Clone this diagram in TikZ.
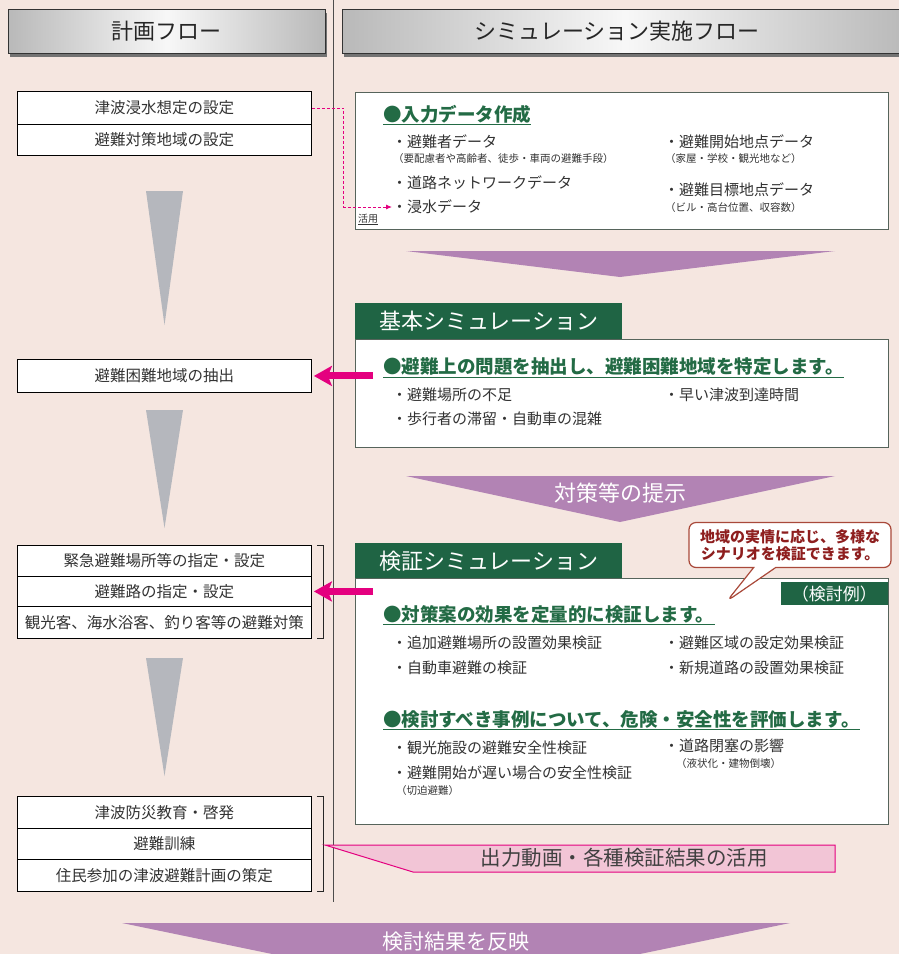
\documentclass[tikz,border=0pt]{standalone}
\usepackage{fontspec}
\setmainfont{Noto Sans CJK JP}
\usetikzlibrary{arrows.meta,calc,shapes.callouts}
\definecolor{bg}{HTML}{F5E6E0}
\definecolor{grn}{HTML}{1F6444}
\definecolor{grntxt}{HTML}{236B45}
\definecolor{mag}{HTML}{E4007F}
\definecolor{purp}{HTML}{B283B4}
\definecolor{tri}{HTML}{B5B7BD}
\definecolor{boxln}{HTML}{56645B}
\definecolor{calln}{HTML}{A9493A}
\definecolor{caltx}{HTML}{8E1E1E}
\definecolor{pinkfill}{HTML}{F2C5D6}
\definecolor{itx}{HTML}{333333}
\newcommand{\fs}[1]{\fontsize{#1}{#1}\selectfont}
\begin{document}
\begin{tikzpicture}[x=1pt,y=-1pt,
  hdr/.style={draw=gray!40!black, line width=0.8pt, left color=gray!55, right color=gray!55, middle color=gray!6,
     anchor=north west, minimum height=44pt, inner sep=0, font=\fs{22}, text=black!85},
  lbox/.style={draw=black, line width=0.9pt, fill=white, anchor=north west, minimum width=294pt, inner sep=0, font=\fs{15.5}, text=itx},
  simbox/.style={draw=boxln, line width=0.9pt, fill=white, anchor=north west, minimum width=533pt, inner sep=0},
  tabbox/.style={fill=grn, anchor=north west, minimum width=267pt, minimum height=36pt, inner sep=0, text=white, font=\fs{22}},
  ttl/.style={anchor=west, inner sep=0, text=grntxt, font=\fs{18.5}\bfseries},
  itm/.style={anchor=west, inner sep=0, text=itx, font=\fs{15}},
  sml/.style={anchor=west, inner sep=0, text=itx, font=\fs{10.5}},
  uline/.style={grntxt, line width=0.9pt},
  magarrow/.style={mag, line width=7pt, -{Stealth[length=18pt,width=20pt,inset=4pt]}},
  tritri/.style={fill=tri},
  purparrow/.style={fill=purp}
]
\useasboundingbox (0,0) rectangle (899,954);
\clip (0,0) rectangle (899,954);
\fill[bg] (0,0) rectangle (899,954);

% divider
\draw[gray!60!black, line width=0.6pt] (333,0) -- (333,902);

% headers
\fill[black!55] (10,13) rectangle (327,57);
\fill[black!55] (344,13) rectangle (905,57);
\node[hdr, minimum width=317pt] (h1) at (8,9) {計画フロー};
\node[hdr, minimum width=565pt] (h2) at (342,9) {\hspace*{-15pt}シミュレーション実施フロー};

% left column
\node[lbox, minimum height=33pt] (g1a) at (17,91) {津波浸水想定の設定};
\node[lbox, minimum height=31pt] (g1b) at (17,124) {避難対策地域の設定};
\fill[tritri] (146,191) -- (183,191) -- (164.5,325) -- cycle;
\node[lbox, minimum height=33pt] (e2) at (17,359) {避難困難地域の抽出};
\fill[tritri] (146,410) -- (183,410) -- (164.5,528) -- cycle;
\node[lbox, minimum height=31pt] (g3a) at (17,545) {緊急避難場所等の指定・設定};
\node[lbox, minimum height=30pt] (g3b) at (17,576) {避難路の指定・設定};
\node[lbox, minimum height=32pt] (g3c) at (17,606) {観光客、海水浴客、釣り客等の避難対策};
\draw[gray!30!black, line width=0.9pt] ([xshift=5pt]g3a.north east) -- ++(7,0) |- ([xshift=5pt]g3c.south east);
\fill[tritri] (146,658) -- (183,658) -- (164.5,776) -- cycle;
\node[lbox, minimum height=32pt] (g4a) at (17,796) {津波防災教育・啓発};
\node[lbox, minimum height=31pt] (g4b) at (17,828) {避難訓練};
\node[lbox, minimum height=32pt] (g4c) at (17,859) {住民参加の津波避難計画の策定};
\draw[gray!30!black, line width=0.9pt] ([xshift=5pt]g4a.north east) -- ++(7,0) |- ([xshift=5pt]g4c.south east);

% input box
\node[simbox, minimum height=137pt] (inbox) at (355,92) {};
\node[ttl] (t0) at (383,114) {●入力データ作成};
\draw[uline] ([yshift=-3.5pt]t0.base west) -- ([yshift=-3.5pt]t0.base east);
\node[itm] (i1) at (392,142) {・避難者データ};
\node[sml] (i1s) at (393,159) {（要配慮者や高齢者、徒歩・車両の避難手段）};
\node[itm] (i2) at (392,183) {・道路ネットワークデータ};
\node[itm] (inund) at (392,207) {・浸水データ};
\node[itm] (i4) at (664,142) {・避難開始地点データ};
\node[sml] (i4s) at (665,159) {（家屋・学校・観光地など）};
\node[itm] (i5) at (664,190) {・避難目標地点データ};
\node[sml] (i5s) at (665,208) {（ビル・高台位置、収容数）};
\node[anchor=west, inner sep=0, font=\fs{10}, text=black!80] (katsu) at (358,219) {活用};
\draw[black!80, line width=0.6pt] ([yshift=-2pt]katsu.base west) -- ([yshift=-2pt]katsu.base east);
\draw[mag, line width=0.9pt, dash pattern=on 3pt off 2pt, -{Latex[length=6pt,width=5pt]}] (g1a.east) -- ++(32,0) |- (inund.west);

% purple arrow 1
\fill[purparrow] (406,251) -- (835,251) -- (620,277) -- cycle;

% basic simulation
\node[tabbox] (bst) at (355,303) {基本シミュレーション};
\node[simbox, minimum height=108pt] (bsbox) at (355,339) {};
\node[ttl] (t1) at (383,367) {●避難上の問題を抽出し、避難困難地域を特定します。};
\draw[uline] ([yshift=-3.5pt]t1.base west) -- ([yshift=-3.5pt]t1.base east);
\node[itm] (b1) at (392,395) {・避難場所の不足};
\node[itm] (b2) at (664,395) {・早い津波到達時間};
\node[itm] (b3) at (392,419) {・歩行者の滞留・自動車の混雑};
\draw[magarrow] (e2.east -| t1.west) ++(-10,0) -- ([xshift=2pt]e2.east);

% purple arrow 2
\fill[purparrow] (406,476) -- (835,476) -- (620,522) -- cycle;
\node[text=white, font=\fs{22}, inner sep=0] (taisaku) at (620,493) {対策等の提示};

% verification simulation
\node[tabbox] (vst) at (355,543) {検証シミュレーション};
\node[simbox, minimum height=246pt] (vsbox) at (355,578) {};
\node[fill=grn, anchor=north east, minimum width=107pt, minimum height=23pt, inner sep=0, text=white, font=\fs{17}] (rei) at (888,582) {（検討例）};
\node[ttl] (t2) at (383,614) {●対策案の効果を定量的に検証します。};
\draw[uline] ([yshift=-3.5pt]t2.base west) -- ([yshift=-3.5pt]t2.base east);
\node[itm] (v1) at (392,643) {・追加避難場所の設置効果検証};
\node[itm] (v2) at (664,643) {・避難区域の設定効果検証};
\node[itm] (v3) at (392,668) {・自動車避難の検証};
\node[itm] (v4) at (664,668) {・新規道路の設置効果検証};
\node[ttl] (t3) at (383,719) {●検討すべき事例について、危険・安全性を評価します。};
\draw[uline] ([yshift=-3.5pt]t3.base west) -- ([yshift=-3.5pt]t3.base east);
\node[itm] (w1) at (392,748) {・観光施設の避難安全性検証};
\node[itm] (w2) at (664,746) {・道路閉塞の影響};
\node[sml] (w2s) at (676,763) {（液状化・建物倒壊）};
\node[itm] (w3) at (392,773) {・避難開始が遅い場合の安全性検証};
\node[sml] (w3s) at (396,790) {（切迫避難）};
\draw[magarrow] (g3b.east -| t2.west) ++(-10,0) -- ([xshift=2pt]g3b.east);

% callout
\node[rectangle callout, draw=calln, fill=white, line width=1.2pt, rounded corners=7pt,
  minimum width=202pt, minimum height=45pt, inner sep=0, align=center,
  callout absolute pointer={(727,601)}, callout pointer width=22pt,
  text=caltx, font=\fs{15}\bfseries] (call) at (790,545)
  {地域の実情に応じ、多様な\\[2pt]シナリオを検証できます。};

% output banner
\filldraw[draw=mag, fill=pinkfill, line width=1pt] (325,845) -- (835,845) -- (835,872) -- (413,872) -- cycle;
\node[text=black!75, font=\fs{20.5}, inner sep=0] (out) at (624,858) {出力動画・各種検証結果の活用};

% bottom arrow
\fill[purparrow] (122,923) -- (790,923) -- (456,992) -- cycle;
\node[text=white, font=\fs{21}, inner sep=0] (hanei) at (456,942) {検討結果を反映};
\end{tikzpicture}
\end{document}
